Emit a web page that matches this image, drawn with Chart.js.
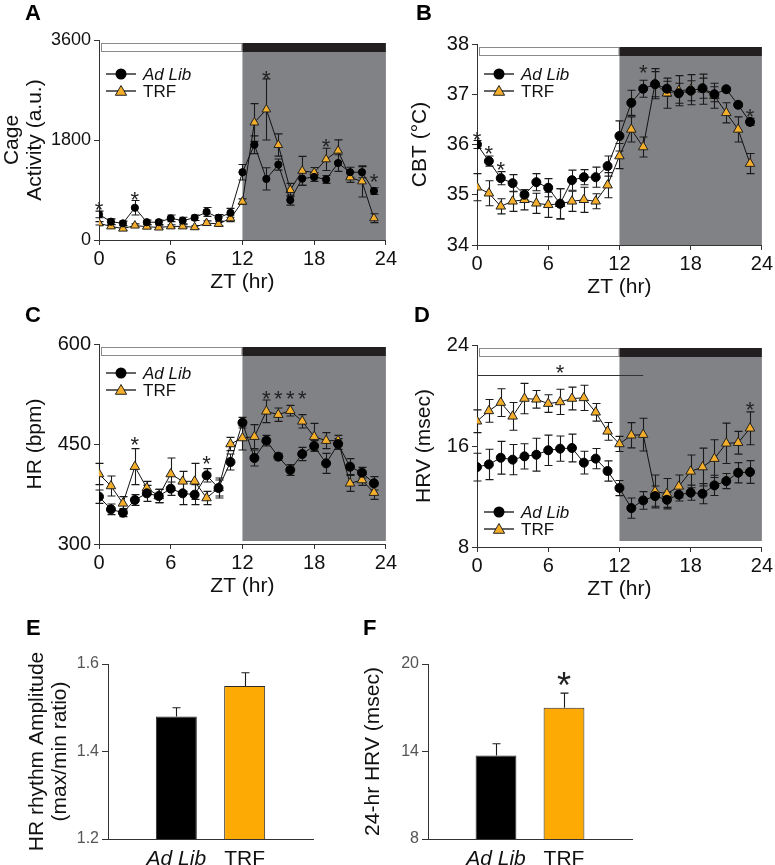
<!DOCTYPE html>
<html>
<head>
<meta charset="utf-8">
<title>Cage activity, CBT, HR and HRV - Ad Lib vs TRF</title>
<script src="https://cdn.jsdelivr.net/npm/chart.js"></script>
<style>
    body {
        margin: 0;
        background: #fff;
        font-family: "Liberation Sans", Arial, sans-serif;
    }
    #fig {
        position: relative;
        width: 775px;
        height: 865px;
        overflow: hidden;
    }
    #fig canvas {
        position: absolute;
    }
    .letter {
        position: absolute;
        font-weight: bold;
        font-size: 22px;
        line-height: 22px;
        color: #000;
    }
</style>
</head>
<body>
<div id="fig">
    <canvas id="chartA" width="399" height="296" style="left:0px;top:0px"></canvas>
    <canvas id="chartB" width="390" height="301" style="left:385px;top:0px"></canvas>
    <canvas id="chartC" width="399" height="310" style="left:0px;top:290px"></canvas>
    <canvas id="chartD" width="390" height="313" style="left:385px;top:290px"></canvas>
    <canvas id="chartE" width="330" height="265" style="left:0px;top:600px"></canvas>
    <canvas id="chartF" width="292" height="265" style="left:350px;top:600px"></canvas>
    <div class="letter" style="left:25px;top:2px">A</div>
    <div class="letter" style="left:416px;top:2px">B</div>
    <div class="letter" style="left:25px;top:304px">C</div>
    <div class="letter" style="left:414px;top:304px">D</div>
    <div class="letter" style="left:26px;top:617px">E</div>
    <div class="letter" style="left:363px;top:617px">F</div>
</div>

<script>
    // ---- data ----
    const hours = [0, 1, 2, 3, 4, 5, 6, 7, 8, 9, 10, 11, 12, 13, 14, 15, 16, 17, 18, 19, 20, 21, 22, 23];

    // A: cage activity (a.u.)
    const actAdLib = [460, 330, 300, 580, 320, 320, 390, 350, 400, 505, 400, 490, 1220, 1715, 1100, 1357, 718, 1105, 1135, 1090, 1385, 1220, 1220, 880];
    const actAdLibErr = [60, 50, 40, 130, 40, 40, 60, 60, 50, 80, 60, 80, 140, 160, 200, 100, 90, 120, 80, 70, 150, 90, 100, 60];
    const actTrf = [300, 245, 205, 260, 240, 225, 245, 245, 230, 305, 290, 390, 690, 2115, 2350, 1710, 900, 1245, 1215, 1452, 1608, 1127, 1055, 392];
    const actTrfErr = [30, 30, 30, 30, 30, 30, 30, 30, 30, 40, 40, 60, 50, 340, 550, 200, 120, 260, 90, 200, 195, 90, 280, 80];
    const actStars = [[0, 635], [3, 815], [14, 3000], [19, 1770], [23, 1145]];

    // B: core body temperature (°C)
    const cbtAdLib = [36.0, 35.67, 35.33, 35.23, 35.0, 35.25, 35.14, 34.82, 35.29, 35.35, 35.35, 35.57, 36.17, 36.83, 37.11, 37.2, 37.11, 37.02, 37.07, 37.12, 37.0, 37.1, 36.79, 36.45];
    const cbtAdLibErr = [0.08, 0.1, 0.13, 0.17, 0.1, 0.17, 0.18, 0.3, 0.2, 0.15, 0.2, 0.2, 0.3, 0.25, 0.17, 0.25, 0.15, 0.2, 0.2, 0.2, 0.15, 0.03, 0.04, 0.07];
    const cbtTrf = [35.15, 35.03, 34.77, 34.87, 34.9, 34.83, 34.8, 34.82, 34.87, 34.9, 34.87, 35.19, 35.77, 36.3, 35.95, 37.21, 37.02, 37.07, 37.09, 37.1, 36.97, 36.63, 36.3, 35.62];
    const cbtTrfErr = [0.27, 0.25, 0.15, 0.2, 0.2, 0.2, 0.25, 0.3, 0.2, 0.25, 0.15, 0.25, 0.25, 0.25, 0.2, 0.3, 0.3, 0.3, 0.3, 0.3, 0.25, 0.2, 0.25, 0.2];
    const cbtStars = [[0, 36.2], [1, 35.92], [2, 35.6], [14, 37.54], [23, 36.67]];

    // C: heart rate (bpm)
    const hrAdLib = [371, 352, 347, 366, 376, 372, 383, 376, 374, 403, 384, 423, 482, 429, 455, 431, 411, 435, 447, 421, 450, 416, 407, 391];
    const hrAdLibErr = [10, 8, 6, 8, 12, 10, 10, 17, 15, 10, 15, 12, 8, 12, 8, 5, 8, 10, 8, 15, 8, 12, 8, 10];
    const hrTrf = [405, 387, 361, 416, 384, 372, 405, 394, 394, 369, 384, 450, 459, 461, 499, 494, 500, 484, 461, 455, 455, 391, 396, 377];
    const hrTrfErr = [16, 15, 10, 27, 10, 10, 24, 15, 27, 10, 12, 10, 18, 18, 17, 10, 8, 10, 20, 12, 8, 12, 8, 10];
    const hrStars = [[3, 457], [9, 429], [14, 526], [15, 526], [16, 526], [17, 526]];

    // D: heart rate variability (msec)
    const hrvAdLib = [14.33, 14.54, 15.07, 14.92, 15.18, 15.31, 15.66, 15.79, 15.84, 14.68, 15.0, 14.02, 12.67, 11.08, 11.69, 12.03, 11.74, 12.14, 12.3, 12.22, 12.88, 13.22, 13.88, 13.94];
    const hrvAdLibErr = [1.1, 1.2, 1.3, 1.2, 1.0, 1.3, 1.2, 1.0, 1.1, 0.9, 0.8, 0.8, 0.6, 0.8, 0.7, 0.8, 0.6, 0.5, 0.6, 0.8, 0.8, 0.6, 0.8, 0.9];
    const hrvTrf = [17.96, 18.78, 19.44, 18.35, 19.76, 19.7, 19.36, 19.49, 19.76, 19.81, 18.67, 17.16, 16.16, 16.85, 16.9, 12.4, 12.22, 12.8, 13.99, 14.33, 15.0, 16.21, 16.26, 17.4];
    const hrvTrfErr = [0.9, 0.9, 1.1, 1.1, 1.2, 0.7, 0.7, 1.0, 0.9, 1.0, 0.7, 0.7, 0.6, 1.0, 1.3, 1.3, 1.2, 0.9, 1.3, 1.5, 1.5, 1.6, 0.9, 1.3];
    const hrvStars = [[7, 22.27], [23, 19.28]];
    const hrvBracket = [0, 14, 21.66]; // from ZT, to ZT, level

    // E, F: summary bars
    const groups = ['Ad Lib', 'TRF'];
    const ampValues = [1.48, 1.55];
    const ampErr = [0.02, 0.03];
    const hrv24Values = [13.73, 17.0];
    const hrv24Err = [0.8, 1.0];
    const hrv24Stars = [['TRF', 19.13]];

    const FONT = '"Liberation Sans", Arial, sans-serif';
    const SHADE = '#808285';
    const ORANGE = '#F4AE2A';
    const BAR_ORANGE = '#FDAA05';

    function drawStar(ctx, px, py, size) {
        ctx.font = size + 'px ' + FONT;
        ctx.textAlign = 'center';
        ctx.textBaseline = 'alphabetic';
        ctx.fillStyle = '#222';
        ctx.fillText('*', px, py + size * 0.58);
    }

    function drawTriangle(ctx, cx, cy, r) {
        ctx.beginPath();
        ctx.moveTo(cx, cy - r);
        ctx.lineTo(cx + r * 0.866, cy + r * 0.5);
        ctx.lineTo(cx - r * 0.866, cy + r * 0.5);
        ctx.closePath();
        ctx.fillStyle = ORANGE;
        ctx.fill();
        ctx.strokeStyle = '#222';
        ctx.lineWidth = 1;
        ctx.stroke();
    }

    // shading, light/dark bar, error bars, stars and the hand made legend
    const panelDecor = {
        id: 'panelDecor',
        beforeDatasetsDraw(chart, args, opts) {
            const {ctx, chartArea: a} = chart;
            const x = chart.scales.x, y = chart.scales.y;
            ctx.save();
            if (opts.cycle) {
                const x0 = x.getPixelForValue(0), x12 = x.getPixelForValue(12), x24 = x.getPixelForValue(24);
                ctx.fillStyle = SHADE;
                ctx.fillRect(x12, a.top + 12, x24 - x12, a.bottom - a.top - 12 - opts.cycle.gap);
                ctx.fillStyle = '#fff';
                ctx.fillRect(x0 + 2, a.top + 3, x12 - x0 - 2, 9);
                ctx.strokeStyle = '#8a8a8a';
                ctx.lineWidth = 1;
                ctx.strokeRect(x0 + 2.5, a.top + 3.5, x12 - x0 - 3, 8);
                ctx.fillStyle = '#231f20';
                ctx.fillRect(x12, a.top + 3, x24 - x12, 9);
            }
            // error bars
            chart.data.datasets.forEach((ds, i) => {
                if (!ds.errors) return;
                const meta = chart.getDatasetMeta(i);
                ctx.strokeStyle = '#1a1a1a';
                ctx.lineWidth = 1.1;
                meta.data.forEach((el, j) => {
                    const v = ds.data[j];
                    if (v === null || v === undefined) return;
                    const e = ds.errors[j];
                    const px = Math.round(el.x) + 0.5;
                    const yTop = y.getPixelForValue(v + e);
                    const yBot = ds.upOnly ? y.getPixelForValue(v) : y.getPixelForValue(v - e);
                    const cap = ds.capHalf || 4;
                    ctx.beginPath();
                    ctx.moveTo(px, yTop);
                    ctx.lineTo(px, yBot);
                    ctx.moveTo(px - cap, yTop);
                    ctx.lineTo(px + cap, yTop);
                    if (!ds.upOnly) {
                        ctx.moveTo(px - cap, yBot);
                        ctx.lineTo(px + cap, yBot);
                    }
                    ctx.stroke();
                });
            });
            ctx.restore();
        },
        afterDatasetsDraw(chart, args, opts) {
            const {ctx, chartArea: a} = chart;
            const x = chart.scales.x, y = chart.scales.y;
            ctx.save();
            if (opts.bracket) {
                const [from, to, level] = opts.bracket;
                const py = Math.round(y.getPixelForValue(level)) + 0.5;
                ctx.strokeStyle = '#333';
                ctx.lineWidth = 1;
                ctx.beginPath();
                ctx.moveTo(x.getPixelForValue(from), py);
                ctx.lineTo(x.getPixelForValue(to), py);
                ctx.stroke();
            }
            (opts.stars || []).forEach(([xv, yv]) => {
                const idx = typeof xv === 'string' ? chart.data.labels.indexOf(xv) : xv;
                drawStar(ctx, x.getPixelForValue(idx), y.getPixelForValue(yv), opts.starSize || 22);
            });
            if (opts.legend) {
                const lx = a.left + 7;
                const rows = [
                    {label: 'Ad Lib', italic: true, dy: opts.legend.top},
                    {label: 'TRF', italic: false, dy: opts.legend.top + 17}
                ];
                rows.forEach((r, k) => {
                    const ly = a.top + r.dy;
                    ctx.strokeStyle = '#111';
                    ctx.lineWidth = 1.3;
                    ctx.beginPath();
                    ctx.moveTo(lx, ly);
                    ctx.lineTo(lx + 30, ly);
                    ctx.stroke();
                    if (k === 0) {
                        ctx.beginPath();
                        ctx.arc(lx + 15, ly, 5.5, 0, Math.PI * 2);
                        ctx.fillStyle = '#000';
                        ctx.fill();
                    } else {
                        drawTriangle(ctx, lx + 15, ly + 1, 6.5);
                    }
                    ctx.fillStyle = '#111';
                    ctx.font = (r.italic ? 'italic ' : '') + '17px ' + FONT;
                    ctx.textAlign = 'left';
                    ctx.textBaseline = 'middle';
                    ctx.fillText(r.label, lx + 37, ly + 1);
                });
            }
            ctx.restore();
        }
    };

    function lineChart(id, cfg) {
        const el = document.getElementById(id);
        return new Chart(el, {
            type: 'line',
            data: {
                labels: hours,
                datasets: [
                    {
                        label: 'Ad Lib',
                        data: cfg.adLib,
                        errors: cfg.adLibErr,
                        borderColor: '#111',
                        borderWidth: 1,
                        pointStyle: 'circle',
                        pointRadius: cfg.dotRadius,
                        pointBackgroundColor: '#000',
                        pointBorderColor: '#000',
                        pointBorderWidth: 1,
                        tension: 0
                    },
                    {
                        label: 'TRF',
                        data: cfg.trf,
                        errors: cfg.trfErr,
                        borderColor: '#111',
                        borderWidth: 1,
                        pointStyle: 'triangle',
                        pointRadius: cfg.triRadius,
                        pointBackgroundColor: ORANGE,
                        pointBorderColor: '#222',
                        pointBorderWidth: 1,
                        tension: 0
                    }
                ]
            },
            options: {
                responsive: false,
                animation: false,
                events: [],
                layout: {padding: {top: cfg.padTop, right: cfg.padRight, bottom: 0, left: 0}},
                scales: {
                    x: {
                        type: 'linear',
                        min: 0,
                        max: 24,
                        afterFit: s => { s.height = 56; },
                        ticks: {stepSize: 6, color: '#111', padding: 2, font: {family: FONT, size: 20},
                                callback: v => String(v)},
                        grid: {drawOnChartArea: false, drawTicks: true, tickLength: 5, color: '#333'},
                        border: {color: '#333', width: 1},
                        title: {display: true, text: 'ZT (hr)', color: '#111',
                                font: {family: FONT, size: 21}, padding: {top: 0, bottom: 1}}
                    },
                    y: {
                        min: cfg.yMin,
                        max: cfg.yMax,
                        afterFit: s => { s.width = cfg.yWidth; },
                        ticks: {stepSize: cfg.yStep, color: '#111', padding: 3,
                                font: {family: FONT, size: cfg.yTickSize || 20},
                                callback: v => String(v)},
                        grid: {drawOnChartArea: false, drawTicks: true, tickLength: 5, color: '#333'},
                        border: {color: '#333', width: 1},
                        title: {display: true, text: cfg.yTitle, color: '#111',
                                font: {family: FONT, size: 21, lineHeight: 1.12}, padding: {top: cfg.titlePad, bottom: 0}}
                    }
                },
                plugins: {
                    legend: {display: false},
                    tooltip: {enabled: false},
                    panelDecor: {
                        cycle: {gap: cfg.shadeGap},
                        stars: cfg.stars,
                        bracket: cfg.bracket,
                        legend: {top: cfg.legendTop}
                    }
                }
            },
            plugins: [panelDecor]
        });
    }

    function barChart(id, cfg) {
        const el = document.getElementById(id);
        return new Chart(el, {
            type: 'bar',
            data: {
                labels: ['', ...groups, ''],
                datasets: [{
                    data: [null, ...cfg.values, null],
                    errors: [null, ...cfg.errors, null],
                    upOnly: true,
                    capHalf: 4,
                    backgroundColor: ['#000', '#000', BAR_ORANGE, '#000'],
                    borderColor: '#2a2a2a',
                    borderWidth: 1,
                    barPercentage: 0.6,
                    categoryPercentage: 1
                }]
            },
            options: {
                responsive: false,
                animation: false,
                events: [],
                layout: {padding: {top: 64, right: cfg.padRight, bottom: 0, left: 0}},
                scales: {
                    x: {
                        type: 'category',
                        offset: false,
                        afterFit: s => { s.height = 26; },
                        grid: {display: false},
                        border: {display: true, color: '#333', width: 1},
                        ticks: {
                            autoSkip: false,
                            maxRotation: 0,
                            padding: 0,
                            color: '#111',
                            font: c => ({family: FONT, size: 21, style: c.tick && c.tick.label === 'Ad Lib' ? 'italic' : 'normal'})
                        }
                    },
                    y: {
                        min: cfg.yMin,
                        max: cfg.yMax,
                        afterFit: s => { s.width = cfg.yWidth; },
                        ticks: {stepSize: cfg.yStep, color: '#555', padding: 3, font: {family: FONT, size: 16},
                                callback: v => cfg.yStep < 1 ? v.toFixed(1) : String(v)},
                        grid: {drawOnChartArea: false, drawTicks: true, tickLength: 6, color: '#333'},
                        border: {color: '#333', width: 1},
                        title: {display: true, text: cfg.yTitle, color: '#111',
                                font: {family: FONT, size: 21, lineHeight: 1.12}, padding: {top: cfg.titlePad, bottom: 0}}
                    }
                },
                plugins: {
                    legend: {display: false},
                    tooltip: {enabled: false},
                    panelDecor: {stars: cfg.stars, starSize: 36}
                }
            },
            plugins: [panelDecor]
        });
    }

    lineChart('chartA', {
        adLib: actAdLib, adLibErr: actAdLibErr, trf: actTrf, trfErr: actTrfErr, stars: actStars,
        yMin: 0, yMax: 3600, yStep: 1800, yTickSize: 18, yTitle: ['Cage', 'Activity (a.u.)'],
        yWidth: 99, padTop: 40, padRight: 12, titlePad: 0, shadeGap: 0, legendTop: 34,
        dotRadius: 3.6, triRadius: 5
    });
    lineChart('chartB', {
        adLib: cbtAdLib, adLibErr: cbtAdLibErr, trf: cbtTrf, trfErr: cbtTrfErr, stars: cbtStars,
        yMin: 34, yMax: 38, yStep: 1, yTitle: 'CBT (°C)',
        yWidth: 92, padTop: 44, padRight: 11, titlePad: 23, shadeGap: 0, legendTop: 30,
        dotRadius: 4.5, triRadius: 5.5
    });
    lineChart('chartC', {
        adLib: hrAdLib, adLibErr: hrAdLibErr, trf: hrTrf, trfErr: hrTrfErr, stars: hrStars,
        yMin: 300, yMax: 600, yStep: 150, yTitle: 'HR (bpm)',
        yWidth: 99, padTop: 54, padRight: 12, titlePad: 23, shadeGap: 3, legendTop: 29,
        dotRadius: 4.5, triRadius: 5.5
    });
    lineChart('chartD', {
        adLib: hrvAdLib, adLibErr: hrvAdLibErr, trf: hrvTrf, trfErr: hrvTrfErr, stars: hrvStars,
        bracket: hrvBracket,
        yMin: 8, yMax: 24, yStep: 8, yTitle: 'HRV (msec)',
        yWidth: 92, padTop: 55, padRight: 11, titlePad: 27, shadeGap: 6, legendTop: 167,
        dotRadius: 4.5, triRadius: 5.5
    });
    barChart('chartE', {
        values: ampValues, errors: ampErr,
        yMin: 1.2, yMax: 1.6, yStep: 0.2, yTitle: ['HR rhythm Amplitude', '(max/min ratio)'],
        yWidth: 108, padRight: 17, titlePad: 25, stars: []
    });
    barChart('chartF', {
        values: hrv24Values, errors: hrv24Err,
        yMin: 8, yMax: 20, yStep: 6, yTitle: '24-hr HRV (msec)',
        yWidth: 78, padRight: 10, titlePad: 11, stars: hrv24Stars
    });
</script>
</body>
</html>
